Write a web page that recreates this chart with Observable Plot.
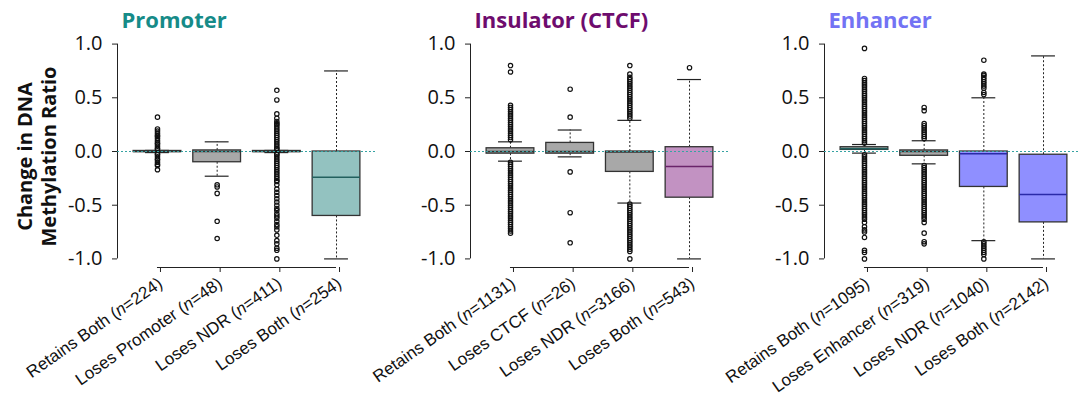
<!DOCTYPE html>
<html><head><meta charset="utf-8">
<script src="https://cdn.jsdelivr.net/npm/d3@7"></script>
<script src="https://cdn.jsdelivr.net/npm/@observablehq/plot@0.6"></script>
<style>
body{margin:0;background:#fff;overflow:hidden}
#chart{position:relative;width:1078px;height:397px;overflow:hidden;background:#fff}
#chart > .panel{position:absolute;top:0;width:380px;height:397px}
#chart svg{overflow:visible;max-width:none!important;width:380px;height:397px}
</style></head><body><div id="chart"></div>
<script>
// ---------- shared ----------
const yTicks = [-1, -0.5, 0, 0.5, 1];
const yLabel = "Change in DNA\nMethylation Ratio";

// ---------- Promoter ----------
const promoterLabels = ["Retains Both (n=224)", "Loses Promoter (n=48)", "Loses NDR (n=411)", "Loses Both (n=254)"];
const promoterQ1  = [-0.005, -0.10, -0.005, -0.60];
const promoterMed = [0.00, 0.00, 0.00, -0.24];
const promoterQ3  = [0.005, 0.01, 0.005, 0.00];
const promoterLo  = [-0.01, -0.23, -0.01, -1.00];
const promoterHi  = [0.01, 0.09, 0.01, 0.75];
const promoterOut = [
  [0.32, 0.21, 0.19, 0.17, 0.15, 0.14, 0.12, 0.10, 0.08, 0.07, 0.05, 0.03, 0.02, -0.02, -0.03, -0.05, -0.07, -0.08, -0.10, -0.12, -0.13, -0.17],
  [-0.31, -0.33, -0.39, -0.65, -0.81],
  [0.57, 0.48, 0.35, 0.31, 0.28, 0.26, 0.25, 0.23, 0.21, 0.19, 0.17, 0.15, 0.13, 0.11, 0.09, 0.07, 0.05, 0.03, 0.02,
   -0.02, -0.03, -0.05, -0.07, -0.09, -0.11, -0.13, -0.15, -0.17, -0.19, -0.21, -0.23, -0.25, -0.27, -0.28, -0.31,
   -0.35, -0.38, -0.41, -0.44, -0.47, -0.50, -0.53, -0.55, -0.58, -0.60, -0.62, -0.65, -0.68, -0.70, -0.73, -0.78,
   -0.83, -0.86, -0.90, -0.92, -1.00],
  []
];

// ---------- Insulator (CTCF) ----------
const insulatorLabels = ["Retains Both (n=1131)", "Loses CTCF (n=26)", "Loses NDR (n=3166)", "Loses Both (n=543)"];
const insulatorQ1  = [-0.02, -0.02, -0.19, -0.43];
const insulatorMed = [0.00, 0.00, -0.005, -0.14];
const insulatorQ3  = [0.03, 0.08, 0.00, 0.04];
const insulatorLo  = [-0.09, -0.05, -0.48, -1.00];
const insulatorHi  = [0.09, 0.20, 0.29, 0.67];
const insulatorOut = [
  [0.80, 0.74, 0.43, 0.41, 0.39, 0.37, 0.35, 0.33, 0.31, 0.29, 0.27, 0.25, 0.23, 0.21, 0.19, 0.17, 0.15, 0.13, 0.11,
   -0.10, -0.12, -0.14, -0.16, -0.18, -0.20, -0.22, -0.24, -0.26, -0.28, -0.30, -0.32, -0.34, -0.36, -0.38, -0.40,
   -0.42, -0.44, -0.46, -0.48, -0.50, -0.52, -0.54, -0.56, -0.58, -0.60, -0.62, -0.64, -0.66, -0.68, -0.70, -0.72,
   -0.74, -0.76],
  [0.58, 0.32, -0.19, -0.57, -0.85],
  [0.80, 0.72, 0.69, 0.67, 0.65, 0.63, 0.61, 0.59, 0.57, 0.55, 0.53, 0.51, 0.49, 0.47, 0.45, 0.43, 0.41, 0.39, 0.37,
   0.35, 0.33, 0.31,
   -0.49, -0.51, -0.53, -0.55, -0.57, -0.59, -0.61, -0.63, -0.65, -0.67, -0.69, -0.71, -0.73, -0.75, -0.77, -0.79,
   -0.81, -0.83, -0.85, -0.87, -0.89, -0.91, -0.93, -1.00],
  [0.78]
];

// ---------- Enhancer ----------
const enhancerLabels = ["Retains Both (n=1095)", "Loses Enhancer (n=319)", "Loses NDR (n=1040)", "Loses Both (n=2142)"];
const enhancerQ1  = [0.015, -0.04, -0.33, -0.66];
const enhancerMed = [0.025, 0.00, -0.02, -0.40];
const enhancerQ3  = [0.04, 0.01, 0.00, -0.03];
const enhancerLo  = [-0.015, -0.115, -0.83, -1.00];
const enhancerHi  = [0.065, 0.10, 0.50, 0.89];
const enhancerOut = [
  [0.96, 0.68, 0.66, 0.64, 0.62, 0.60, 0.58, 0.56, 0.54, 0.52, 0.50, 0.48, 0.46, 0.44, 0.42, 0.40, 0.38, 0.36, 0.34,
   0.32, 0.30, 0.28, 0.26, 0.24, 0.22, 0.20, 0.18, 0.16, 0.14, 0.12, 0.10, 0.08,
   -0.03, -0.05, -0.07, -0.09, -0.11, -0.13, -0.15, -0.17, -0.19, -0.21, -0.23, -0.25, -0.27, -0.29, -0.31, -0.33,
   -0.35, -0.37, -0.39, -0.41, -0.43, -0.45, -0.47, -0.49, -0.51, -0.53, -0.55, -0.57, -0.59, -0.61, -0.63, -0.66,
   -0.70, -0.73, -0.75, -0.80, -0.92, -0.94, -1.00],
  [0.41, 0.38, 0.26, 0.24, 0.22, 0.20, 0.18, 0.16, 0.14, 0.12,
   -0.13, -0.15, -0.17, -0.19, -0.21, -0.23, -0.25, -0.27, -0.29, -0.31, -0.33, -0.35, -0.37, -0.39, -0.41, -0.43,
   -0.45, -0.47, -0.49, -0.51, -0.53, -0.55, -0.57, -0.59, -0.61, -0.63, -0.66, -0.76, -0.84, -0.86],
  [0.85, 0.72, 0.71, 0.69, 0.67, 0.65, 0.63, 0.61, 0.59, 0.55, 0.53,
   -0.84, -0.86, -0.88, -0.90, -0.92, -0.94, -0.96, -1.00],
  []
];

// ---------- styling ----------
const panels = [
  {title: "Promoter", titleColor: "#168b88", labels: promoterLabels, q1: promoterQ1, med: promoterMed, q3: promoterQ3, lo: promoterLo, hi: promoterHi, out: promoterOut,
   fills: ["#a8a8a8", "#a8a8a8", "#a8a8a8", "#93c2c0"], medColors: ["#333", "#333", "#333", "#22605e"], left: 0, yTitle: true},
  {title: "Insulator (CTCF)", titleColor: "#6e0c6e", labels: insulatorLabels, q1: insulatorQ1, med: insulatorMed, q3: insulatorQ3, lo: insulatorLo, hi: insulatorHi, out: insulatorOut,
   fills: ["#a8a8a8", "#a8a8a8", "#a8a8a8", "#c292c2"], medColors: ["#333", "#333", "#333", "#6a246a"], left: 353},
  {title: "Enhancer", titleColor: "#7373f4", labels: enhancerLabels, q1: enhancerQ1, med: enhancerMed, q3: enhancerQ3, lo: enhancerLo, hi: enhancerHi, out: enhancerOut,
   fills: ["#98aaa7", "#a8a8a8", "#8f8fff", "#8f8fff"], medColors: ["#22605e", "#333", "#2a2aa8", "#2a2aa8"], left: 707}
];

const xDomain = [0.33, 4.67];
const yDomain = [-1.08, 1.08];
const boxHalf = 0.4, capHalf = 0.2;

function makePanel(p) {
  const boxes = p.labels.map((label, i) => ({pos: i + 1, label, q1: p.q1[i], med: p.med[i], q3: p.q3[i], lo: p.lo[i], hi: p.hi[i], fill: p.fills[i], mc: p.medColors[i]}));
  const pts = p.out.flatMap((arr, i) => arr.map(v => ({pos: i + 1, v})));
  const marks = [
    Plot.axisY({ticks: yTicks, tickFormat: d => d.toFixed(1), tickSize: 5, tickPadding: 10, fontSize: 20, fontFamily: "Open Sans", label: null, stroke: "#222"}),
    Plot.ruleX([xDomain[0]], {y1: yTicks[0], y2: yTicks[yTicks.length - 1], stroke: "#222", strokeWidth: 1}),
    Plot.axisX({ticks: boxes.map(b => b.pos), tickFormat: d => p.labels[d - 1], tickRotate: -35, tickSize: 5, tickPadding: 9, dx: 3, fontSize: 17, label: null, stroke: "#222"}),
    Plot.ruleY([yDomain[0]], {x1: boxes[0].pos, x2: boxes[boxes.length - 1].pos, stroke: "#222"}),
    // whiskers
    Plot.ruleX(boxes, {x: "pos", y1: "q3", y2: "hi", stroke: "#222", strokeDasharray: "2,2", strokeWidth: 1}),
    Plot.ruleX(boxes, {x: "pos", y1: "q1", y2: "lo", stroke: "#222", strokeDasharray: "2,2", strokeWidth: 1}),
    Plot.ruleY(boxes, {y: "hi", x1: d => d.pos - capHalf, x2: d => d.pos + capHalf, stroke: "#222", strokeWidth: 1.2}),
    Plot.ruleY(boxes, {y: "lo", x1: d => d.pos - capHalf, x2: d => d.pos + capHalf, stroke: "#222", strokeWidth: 1.2}),
    // boxes
    Plot.rect(boxes, {x1: d => d.pos - boxHalf, x2: d => d.pos + boxHalf, y1: "q1", y2: "q3", fill: d => d.fill, stroke: "#333", strokeWidth: 1.3}),
    Plot.ruleY(boxes, {y: "med", x1: d => d.pos - boxHalf, x2: d => d.pos + boxHalf, stroke: d => d.mc, strokeWidth: 1.5}),
    // outliers
    Plot.dot(pts, {x: "pos", y: "v", r: 2.2, stroke: "#111", strokeWidth: 1.2, fill: "none"}),
    // zero line
    Plot.ruleY([0], {stroke: "#36a3a3", strokeDasharray: "2,2", strokeWidth: 1.1}),
    // title
    Plot.text([p.title], {frameAnchor: "top-left", dx: 4, dy: -15, textAnchor: "start", lineAnchor: "middle", fontSize: 22, fontWeight: "bold", fontFamily: "Open Sans", fill: p.titleColor})
  ];
  if (p.yTitle) {
    marks.push(Plot.text([yLabel], {frameAnchor: "left", dx: -81, dy: 5, rotate: -90, textAnchor: "middle", lineAnchor: "middle", lineHeight: 1.2, fontSize: 20, fontWeight: "bold", fontFamily: "Open Sans", fill: "#111"}));
  }
  const svg = Plot.plot({
    width: 380, height: 397,
    marginLeft: 117, marginRight: 4, marginTop: 35, marginBottom: 130,
    style: {background: "transparent", overflow: "visible", fontFamily: "Liberation Sans, Arial, sans-serif", color: "#111"},
    x: {type: "linear", domain: xDomain},
    y: {type: "linear", domain: yDomain},
    marks
  });
  // italicize "n" in the tick labels
  d3.select(svg).selectAll('g[aria-label="x-axis tick label"] text').each(function() {
    const t = this.textContent;
    const m = t.match(/^(.*\()n(=.*)$/);
    if (m) {
      const s = d3.select(this);
      s.text(null);
      s.append("tspan").text(m[1]);
      s.append("tspan").attr("font-style", "italic").text("n");
      s.append("tspan").text(m[2]);
    }
  });
  const div = document.createElement("div");
  div.className = "panel";
  div.style.left = p.left + "px";
  div.appendChild(svg);
  return div;
}

const chart = document.getElementById("chart");
for (const p of panels) chart.appendChild(makePanel(p));
</script></body></html>
